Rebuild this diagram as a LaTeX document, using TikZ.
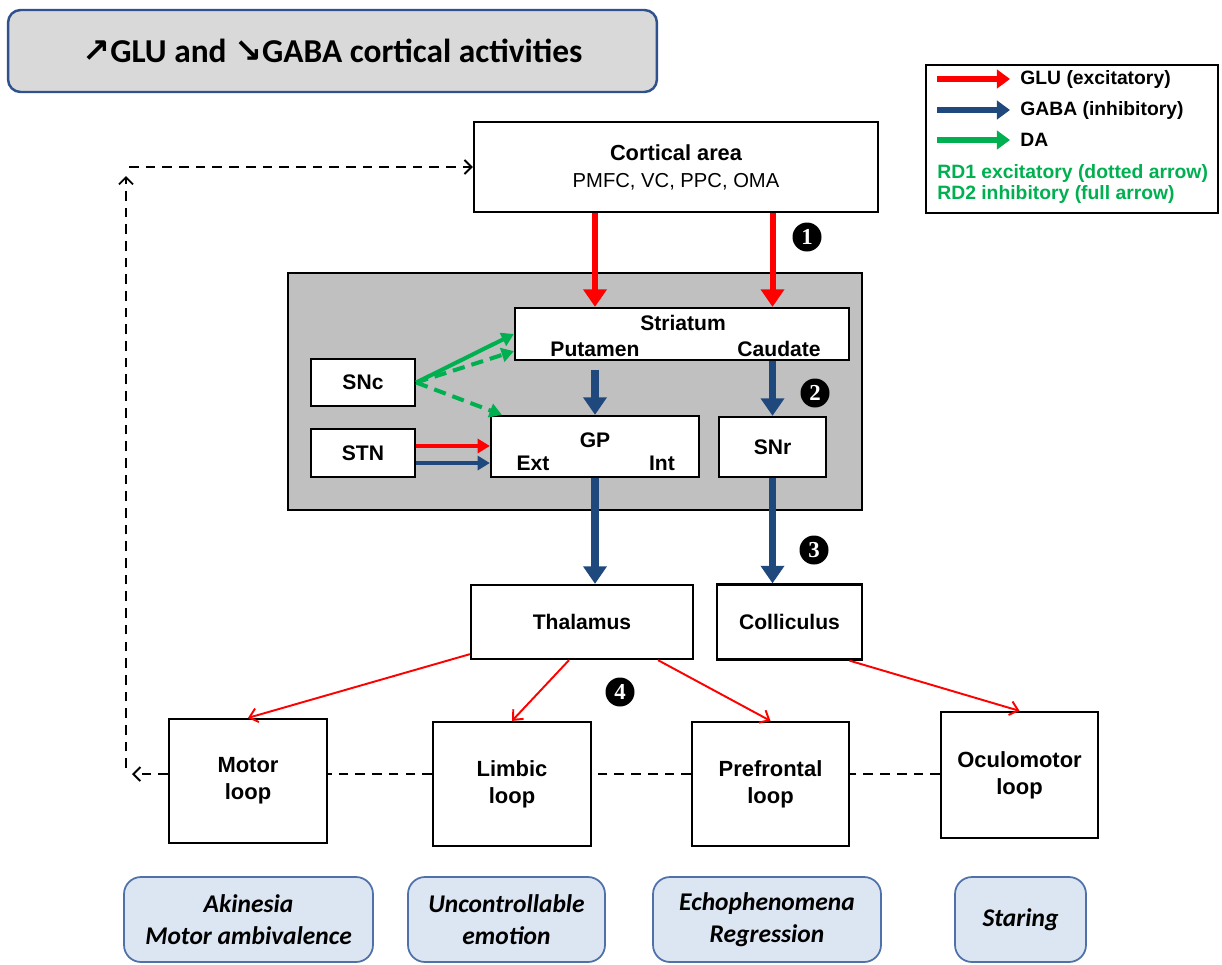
\documentclass[tikz,border=0pt]{standalone}
\usepackage{fontspec}
\setmainfont{Liberation Sans}
\newfontfamily\calibri{Carlito}
\newfontfamily\symbolfont{DejaVu Sans}
\newfontfamily\digitfont{Liberation Serif}
\usetikzlibrary{arrows.meta}
\usetikzlibrary{calc}

\definecolor{glured}{RGB}{255,0,0}
\definecolor{gababl}{RGB}{31,73,125}
\definecolor{dagreen}{RGB}{0,176,80}
\definecolor{panelgray}{RGB}{192,192,192}
\definecolor{titlefill}{RGB}{217,217,217}
\definecolor{titleline}{RGB}{47,82,143}
\definecolor{symfill}{RGB}{220,230,242}
\definecolor{symline}{RGB}{79,113,170}

\begin{document}
\begin{tikzpicture}[x=0.02cm, y=-0.02cm,
  box/.style={draw=black, line width=1.3pt, fill=white, align=center, inner sep=0pt,
    font=\bfseries\fontsize{12}{14}\selectfont},
  loopbox/.style={box, minimum width=3.16cm, minimum height=2.48cm,
    font=\bfseries\fontsize{12.5}{15.3}\selectfont},
  symptom/.style={draw=symline, line width=1pt, fill=symfill, rounded corners=0.34cm,
    align=center, minimum height=1.7cm, inner sep=0pt,
    font=\calibri\bfseries\itshape\fontsize{14.5}{18}\selectfont},
  banner/.style={draw=titleline, line width=1.4pt, fill=titlefill, rounded corners=0.25cm,
    minimum width=12.98cm, minimum height=1.64cm,
    font=\calibri\bfseries\fontsize{19}{21}\selectfont},
  lbl/.style={inner sep=0pt, font=\bfseries\fontsize{12}{14}\selectfont},
  legtext/.style={inner sep=0pt, anchor=west, font=\bfseries\fontsize{11}{13}\selectfont},
  badge/.style={circle, fill=black, text=white, inner sep=0pt, minimum size=0.58cm,
    font=\digitfont\bfseries\fontsize{13}{13}\selectfont},
  glu/.style={glured, line width=3.4pt, -{Triangle[length=10pt,width=13pt]}},
  gaba/.style={gababl, line width=4pt, -{Triangle[length=10pt,width=13pt]}},
  legend arrow/.style={line width=3.4pt, -{Triangle[length=7.5pt,width=10.5pt]}},
  side/.style={line width=2.3pt, -{Triangle[length=7pt,width=8pt]}},
  da/.style={dagreen, line width=2.3pt, -{Triangle[length=7pt,width=8pt]}},
  dadash/.style={da, dash pattern=on 7pt off 4pt},
  relay/.style={glured, line width=1.1pt, -{Straight Barb[length=4.5pt,width=8pt]}},
  feedback/.style={black, line width=1.1pt, dash pattern=on 5.5pt off 4pt},
  feedarrow/.style={feedback, -{Straight Barb[length=4pt,width=8pt]}}]

  % Page frame
  \useasboundingbox (0,0) rectangle (1222,964);

  % Title banner
  \node[banner] (title) at (332.5,51)
    {{\symbolfont\bfseries ↗}GLU and {\symbolfont\bfseries ↘}GABA cortical activities};

  % Legend
  \node[draw=black, line width=1pt, minimum width=5.84cm, minimum height=2.96cm] (legend) at (1072,139) {};
  \draw[glured, legend arrow] (937,79) -- (1010,79);
  \draw[gababl, legend arrow] (937,110) -- (1010,110);
  \draw[dagreen, legend arrow] (937,140) -- (1010,140);
  \node[legtext] (lgGlu) at (1020,79) {GLU (excitatory)};
  \node[legtext] (lgGaba) at (1020,110) {GABA (inhibitory)};
  \node[legtext] (lgDa) at (1020,140) {DA};
  \node[legtext, text=dagreen] (lgRdOne) at (937,173) {RD1 excitatory (dotted arrow)};
  \node[legtext, text=dagreen] (lgRdTwo) at (937,194) {RD2 inhibitory (full arrow)};

  % Cortex
  \node[box, minimum width=8.08cm, minimum height=1.8cm, font=\bfseries\fontsize{12.4}{15.3}\selectfont]
    (cortex) at (676,167) {Cortical area\\{\mdseries\fontsize{11.5}{15.3}\selectfont PMFC, VC, PPC, OMA}};

  % Basal ganglia panel
  \draw[fill=panelgray, line width=1.2pt] (288,273) rectangle (862,510);

  \node[box, minimum width=6.68cm, minimum height=1.04cm] (striatum) at (682,334) {};
  \node[lbl] (striatumLbl) at (683,323) {Striatum};
  \node[lbl] (putamenLbl) at (595,349) {Putamen};
  \node[lbl] (caudateLbl) at (779,349) {Caudate};

  \node[box, minimum width=2.08cm, minimum height=0.94cm] (snc) at (363,382.5) {SNc};
  \node[box, minimum width=2.08cm, minimum height=0.96cm] (stn) at (363,453) {STN};

  \node[box, minimum width=4.16cm, minimum height=1.22cm] (gp) at (595,446.5) {};
  \node[lbl] (gpLbl) at (595,440) {GP};
  \node[lbl] (extLbl) at (533,463) {Ext};
  \node[lbl] (intLbl) at (662,463) {Int};

  \node[box, minimum width=2.14cm, minimum height=1.2cm] (snr) at (772.5,447) {SNr};

  % Relay nuclei
  \node[box, minimum width=4.44cm, minimum height=1.48cm] (thalamus) at (582,622) {Thalamus};
  \node[box, minimum width=2.9cm, minimum height=1.5cm] (colliculus) at (789.5,622) {Colliculus};

  % Loops
  \node[loopbox] (motor) at (248,781) {Motor\\loop};
  \node[loopbox] (limbic) at (512,784) {Limbic\\loop};
  \node[loopbox, minimum width=3.14cm] (prefrontal) at (770.5,784) {Prefrontal\\loop};
  \node[loopbox, minimum width=3.14cm, minimum height=2.52cm] (oculomotor) at (1019.5,775) {Oculomotor\\loop};

  % Symptoms
  \node[symptom, minimum width=4.98cm] (akinesia) at (248.5,919.5) {Akinesia\\Motor ambivalence};
  \node[symptom, minimum width=3.94cm] (emotion) at (506.5,919.5) {Uncontrollable\\emotion};
  \node[symptom, minimum width=4.56cm] (echo) at (767,919.5) {Echophenomena\\Regression};
  \node[symptom, minimum width=2.62cm] (staring) at (1020.5,919.5) {Staring};

  % Step numbers
  \node[badge] (stepOne) at (807,237) {1};
  \node[badge] (stepTwo) at (815,393) {2};
  \node[badge] (stepThree) at (814,550) {3};
  \node[badge] (stepFour) at (620,692) {4};

  % Cortex to striatum (GLU)
  \draw[glu] (cortex.south -| gp) -- (striatum.north -| gp);
  \draw[glu] (cortex.south -| snr) -- (striatum.north -| snr);

  % Striatum outputs (GABA)
  \draw[gaba, shorten <=5pt] (striatum.south -| gp) -- (gp.north);
  \draw[gaba] (striatum.south -| snr) -- (snr.north);

  % Dopamine from SNc
  \draw[da] (snc.east) -- (striatum.west);
  \draw[dadash] (snc.east) -- ($(striatum.south west)+(0,-10)$);
  \draw[dadash] (snc.east) -- ($(gp.north west)+(12,0)$);

  % STN to GP
  \draw[glured, side] ([yshift=4pt]stn.east) -- ([yshift=4pt]stn.east -| gp.west);
  \draw[gababl, side] ([yshift=-5.7pt]stn.east) -- ([yshift=-5.7pt]stn.east -| gp.west);

  % Output to thalamus and colliculus
  \draw[gaba] (gp.south) -- (thalamus.north -| gp.south);
  \draw[gaba] (snr.south) -- (colliculus.north -| snr.south);

  % Thalamus and colliculus to loops
  \draw[relay] ([yshift=3.4pt]thalamus.south west) -- (motor.north);
  \draw[relay] ($(thalamus.south)+(-13,0)$) -- (limbic.north);
  \draw[relay] ($(thalamus.south)+(76,0)$) -- (prefrontal.north);
  \draw[relay] ($(colliculus.south)+(60,0)$) -- (oculomotor.north);

  % Feedback to cortex
  \coordinate (loopline) at (0,774);
  \coordinate (backtip) at (132,774);
  \coordinate (riseLow) at (126,768);
  \coordinate (riseTop) at (126,176);
  \coordinate (corner) at (129,167);
  \draw[feedback] (oculomotor.west |- loopline) -- (prefrontal.east |- loopline);
  \draw[feedback] (prefrontal.west |- loopline) -- (limbic.east |- loopline);
  \draw[feedback] (limbic.west |- loopline) -- (motor.east |- loopline);
  \draw[feedarrow] (motor.west |- loopline) -- (backtip);
  \draw[feedarrow] (riseLow) -- (riseTop);
  \draw[feedarrow] (corner) -- (cortex.west);

\end{tikzpicture}
\end{document}
